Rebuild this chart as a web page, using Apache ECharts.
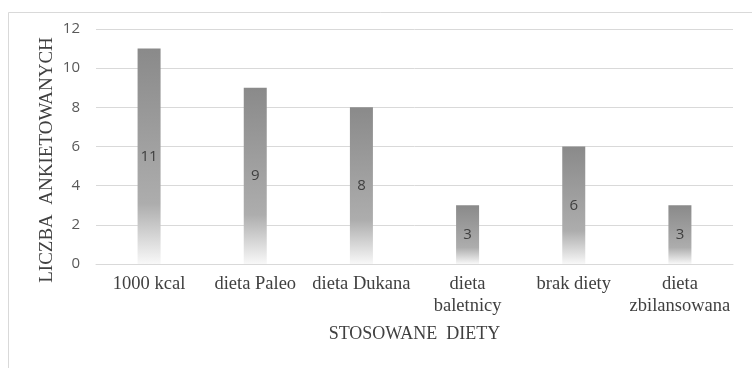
<!DOCTYPE html>
<html><head><meta charset="utf-8">
<script src="https://cdn.jsdelivr.net/npm/echarts@6/dist/echarts.min.js"></script>
<style>html,body{margin:0;padding:0;background:#fff}#c{width:752px;height:368px}</style>
</head><body><div id="c"></div>
<script>
const categories = ["1000 kcal", "dieta Paleo", "dieta Dukana", "dieta\nbaletnicy", "brak diety", "dieta\nzbilansowana"];
const values = [11, 9, 8, 3, 6, 3];
const yTicks = [0, 2, 4, 6, 8, 10, 12];

const chart = echarts.init(document.getElementById('c'), null, {renderer: 'canvas'});
chart.setOption({
  animation: false,
  backgroundColor: '#fff',
  graphic: [{type: 'rect', shape: {x: 8.5, y: 12.5, width: 800, height: 400}, style: {fill: 'none', stroke: '#d9d9d9', lineWidth: 1}, silent: true}],
  grid: {left: 96, right: 19, top: 29, bottom: 104},
  xAxis: {
    type: 'category', data: categories,
    axisLine: {lineStyle: {color: '#d9d9d9', width: 1}},
    axisTick: {show: false},
    axisLabel: {color: '#404040', fontFamily: 'Liberation Serif', fontSize: 18.5, lineHeight: 22, margin: 9, interval: 0},
    name: 'STOSOWANE  DIETY', nameLocation: 'middle', nameGap: 61, nameMoveOverlap: false,
    nameTextStyle: {color: '#404040', fontFamily: 'Liberation Serif', fontSize: 18}
  },
  yAxis: {
    type: 'value', min: 0, max: 12, interval: 2,
    axisLine: {show: false}, axisTick: {show: false},
    splitLine: {lineStyle: {color: '#d9d9d9', width: 1}},
    axisLabel: {color: '#595959', fontFamily: 'Open Sans', fontSize: 15, margin: 16,
      formatter: v => yTicks.includes(v) ? String(v) : ''},
    name: 'LICZBA  ANKIETOWANYCH', nameLocation: 'middle', nameGap: 39, nameRotate: 90, nameMoveOverlap: false,
    nameTextStyle: {color: '#404040', fontFamily: 'Liberation Serif', fontSize: 19, padding: [0, 27, 0, 0]}
  },
  series: [{
    type: 'bar', data: values, barWidth: 23,
    itemStyle: {color: new echarts.graphic.LinearGradient(0, 0, 0, 1, [
      {offset: 0, color: '#8a8a8a'},
      {offset: 0.72, color: '#adadad'},
      {offset: 1, color: '#f8f8f8'}
    ])},
    label: {show: true, position: 'inside', color: '#404040', fontFamily: 'Open Sans', fontSize: 15}
  }]
});
</script></body></html>
